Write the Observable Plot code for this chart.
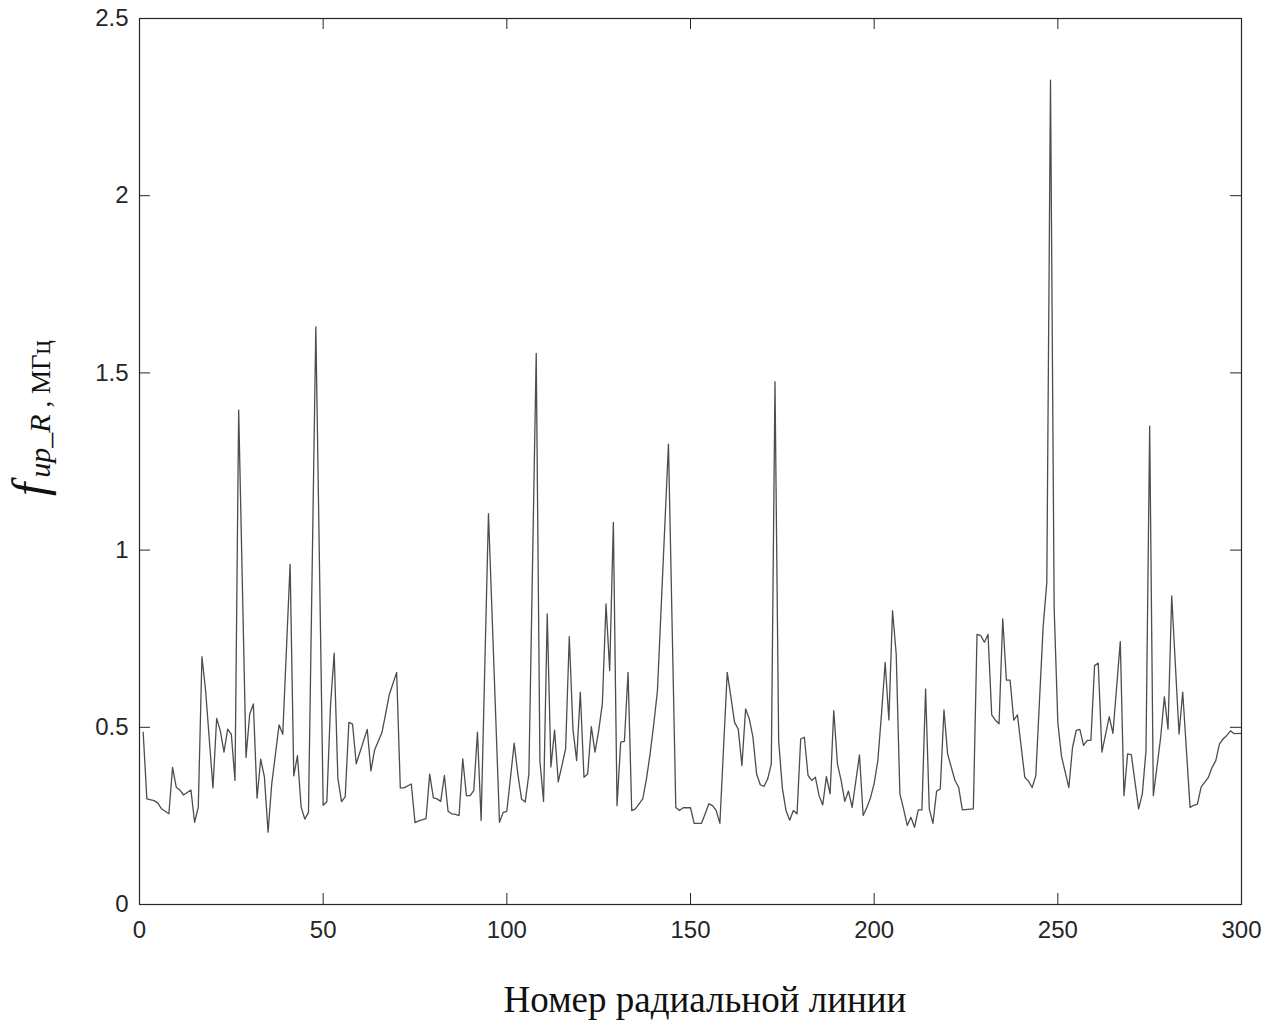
<!DOCTYPE html>
<html>
<head>
<meta charset="utf-8">
<script src="https://cdn.jsdelivr.net/npm/d3@7"></script>
<script src="https://cdn.jsdelivr.net/npm/@observablehq/plot@0.6"></script>
<style>
  html, body { margin: 0; padding: 0; background: #fff; }
  #chart svg { display: block; }
</style>
</head>
<body>
<div id="chart"></div>
<script>
// Radial line number (index) and frequency values, MHz
const lineIndex = [1,2,4,5,6,8,9,10,11,12,14,15,16,17,18,20,21,22,23,24,25,26,27,29,30,31,32,33,34,35,36,38,39,41,42,43,44,45,46,48,50,51,52,53,54,55,56,57,58,59,62,63,64,66,67,68,70,71,72,74,75,76,78,79,80,81,82,83,84,85,86,87,88,89,90,91,92,93,95,98,99,100,102,103,104,105,106,108,109,110,111,112,113,114,115,116,117,118,119,120,121,122,123,124,125,126,127,128,129,130,131,132,133,134,135,137,138,139,140,141,144,146,147,148,150,151,153,154,155,156,157,158,160,161,162,163,164,165,166,167,168,169,170,171,172,173,174,175,176,177,178,179,180,181,182,183,184,185,186,187,188,189,190,191,192,193,194,196,197,198,199,200,201,202,203,204,205,206,207,208,209,210,211,212,213,214,215,216,217,218,219,220,221,222,223,224,227,228,229,230,231,232,233,234,235,236,237,238,239,241,242,243,244,246,247,248,249,250,251,253,254,255,256,257,258,259,260,261,262,264,265,267,268,269,270,272,273,274,275,276,278,279,280,281,283,284,286,287,288,289,290,291,292,293,294,295,296,297,298,300];
const freqValues = [0.486,0.298,0.293,0.286,0.27,0.256,0.387,0.331,0.323,0.309,0.323,0.232,0.274,0.699,0.603,0.329,0.525,0.49,0.43,0.495,0.48,0.35,1.395,0.415,0.537,0.566,0.30,0.41,0.36,0.204,0.34,0.507,0.48,0.96,0.363,0.42,0.275,0.241,0.26,1.63,0.28,0.29,0.562,0.709,0.356,0.29,0.304,0.514,0.509,0.397,0.494,0.377,0.436,0.485,0.538,0.592,0.655,0.329,0.329,0.34,0.231,0.236,0.242,0.368,0.301,0.298,0.291,0.364,0.263,0.256,0.254,0.251,0.411,0.307,0.307,0.321,0.486,0.237,1.103,0.232,0.26,0.263,0.455,0.368,0.298,0.289,0.368,1.555,0.406,0.291,0.82,0.388,0.492,0.346,0.392,0.439,0.756,0.495,0.406,0.599,0.359,0.368,0.502,0.43,0.49,0.566,0.848,0.66,1.078,0.279,0.458,0.46,0.655,0.265,0.27,0.298,0.354,0.425,0.509,0.603,1.299,0.274,0.265,0.273,0.273,0.229,0.229,0.256,0.284,0.279,0.265,0.229,0.655,0.585,0.514,0.495,0.392,0.552,0.524,0.472,0.368,0.338,0.333,0.354,0.397,1.475,0.462,0.329,0.265,0.238,0.265,0.256,0.467,0.472,0.364,0.35,0.359,0.307,0.281,0.361,0.312,0.547,0.397,0.35,0.291,0.32,0.274,0.422,0.251,0.274,0.301,0.342,0.406,0.538,0.683,0.521,0.829,0.707,0.312,0.27,0.223,0.246,0.218,0.267,0.267,0.608,0.27,0.229,0.32,0.326,0.549,0.425,0.387,0.35,0.331,0.267,0.27,0.762,0.759,0.74,0.762,0.535,0.52,0.51,0.806,0.633,0.633,0.52,0.535,0.359,0.348,0.33,0.363,0.784,0.909,2.326,0.836,0.513,0.418,0.33,0.443,0.491,0.494,0.449,0.463,0.463,0.674,0.681,0.43,0.53,0.483,0.742,0.307,0.425,0.423,0.27,0.312,0.434,1.35,0.307,0.472,0.586,0.495,0.871,0.481,0.599,0.274,0.28,0.283,0.331,0.345,0.359,0.387,0.406,0.453,0.467,0.477,0.49,0.482,0.483];
const xTicks = [0, 50, 100, 150, 200, 250, 300];
const yTicks = [0, 0.5, 1, 1.5, 2, 2.5];
const xLabel = "Номер радиальной линии";
const yLabelMain = "f";
const yLabelSub = "up_R";
const yLabelUnit = " , МГц";

const data = lineIndex.map((x, i) => ({x, y: freqValues[i]}));
const axisColor = "#262626";
const fmt = d => String(d);

const W = 1278, H = 1021, mL = 139, mR = 37, mT = 18, mB = 117;
const innerW = W - mL - mR, innerH = H - mT - mB;
const tickLen = 11;

const plot = Plot.plot({
  width: W,
  height: H,
  marginLeft: mL,
  marginRight: mR,
  marginTop: mT,
  marginBottom: mB,
  style: {fontFamily: "'Liberation Sans', Arial, sans-serif", fontSize: "24px", color: axisColor, background: "#fff"},
  x: {domain: [0, 300], ticks: xTicks},
  y: {domain: [0, 2.5], ticks: yTicks},
  marks: [
    Plot.axisX(xTicks, {anchor: "bottom", tickSize: 0, tickPadding: 16, tickFormat: fmt, label: null, fontSize: 24, fill: axisColor}),
    Plot.axisY(yTicks, {anchor: "left", tickSize: 0, tickPadding: 11, tickFormat: fmt, label: null, fontSize: 24, fill: axisColor}),
    // inward ticks on all four sides (MATLAB box style)
    Plot.tickX(xTicks, {x: d => d, insetTop: innerH - tickLen, stroke: axisColor}),
    Plot.tickX(xTicks, {x: d => d, insetBottom: innerH - tickLen, stroke: axisColor}),
    Plot.tickY(yTicks, {y: d => d, insetRight: innerW - tickLen, stroke: axisColor}),
    Plot.tickY(yTicks, {y: d => d, insetLeft: innerW - tickLen, stroke: axisColor}),
    Plot.line(data, {x: "x", y: "y", stroke: "#4d4d4d", strokeWidth: 1.3}),
    Plot.frame({stroke: axisColor, strokeWidth: 1.2})
  ]
});

const svg = d3.select(plot);
// X axis title
svg.append("text")
  .attr("x", 705)
  .attr("y", 1012)
  .attr("text-anchor", "middle")
  .attr("font-family", "'Liberation Serif', 'Times New Roman', serif")
  .attr("font-size", 37)
  .attr("fill", "#111")
  .text(xLabel);

// Y axis title (rotated, with italic f and subscript)
const yt = svg.append("text")
  .attr("transform", "translate(50,496) rotate(-90)")
  .attr("text-anchor", "start")
  .attr("font-family", "'Liberation Serif', 'Times New Roman', serif")
  .attr("fill", "#111");
yt.append("tspan").attr("font-size", 48).attr("font-style", "italic").attr("dy", -4).text(yLabelMain);
yt.append("tspan").attr("font-size", 30).attr("font-style", "italic").attr("dx", 5).attr("dy", 4).text(yLabelSub);
yt.append("tspan").attr("font-size", 27).text(yLabelUnit);

document.getElementById("chart").appendChild(plot);
</script>
</body>
</html>
